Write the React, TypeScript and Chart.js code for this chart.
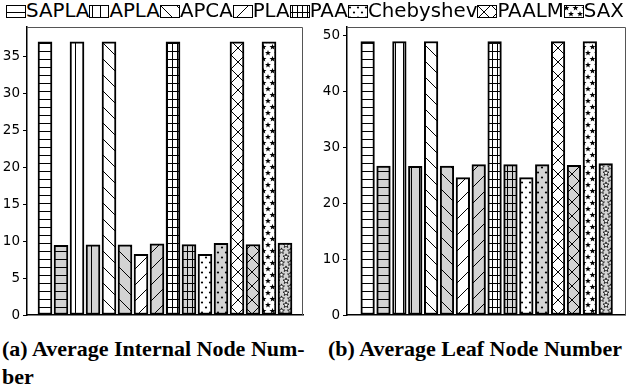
import React, { useEffect, useRef } from 'react';
import { Chart, registerables } from 'chart.js';
Chart.register(...registerables);

// ---- data ----
const methods = ['SAPLA', 'APLA', 'APCA', 'PLA', 'PAA', 'Chebyshev', 'PAALM', 'SAX'];
const internalWhite = [37, 37, 37, 8.2, 37, 8.2, 37, 37];
const internalGray = [9.45, 9.5, 9.5, 9.65, 9.55, 9.7, 9.55, 9.75];
const leafWhite = [49, 49, 49, 24.6, 49, 24.6, 49, 49];
const leafGray = [26.7, 26.65, 26.7, 26.95, 26.95, 26.95, 26.8, 27.15];
const captionA = ['(a) Average Internal Node Num-', 'ber'];
const captionB = ['(b) Average Leaf Node Number'];

type Kind = 'hline' | 'vline' | 'bslash' | 'fslash' | 'grid' | 'dots' | 'xcross' | 'stars';
const kinds: Kind[] = ['hline', 'vline', 'bslash', 'fslash', 'grid', 'dots', 'xcross', 'stars'];

const GRAY = '#d3d3d3';

function star(ctx: CanvasRenderingContext2D, cx: number, cy: number, r: number, fill: string, stroke?: string) {
  ctx.beginPath();
  for (let i = 0; i < 10; i++) {
    const rr = i % 2 === 0 ? r : r * 0.42;
    const a = -Math.PI / 2 + (i * Math.PI) / 5;
    const x = cx + rr * Math.cos(a);
    const y = cy + rr * Math.sin(a);
    if (i === 0) ctx.moveTo(x, y);
    else ctx.lineTo(x, y);
  }
  ctx.closePath();
  ctx.fillStyle = fill;
  ctx.fill();
  if (stroke) {
    ctx.strokeStyle = stroke;
    ctx.lineWidth = 0.8;
    ctx.stroke();
  }
}

function makeTile(kind: Kind, bg: string): HTMLCanvasElement {
  let w = 8, h = 8;
  if (kind === 'bslash' || kind === 'fslash') { w = 16; h = 16; }
  if (kind === 'xcross') { w = 14; h = 14; }
  if (kind === 'grid') { w = 5; h = 8; }
  if (kind === 'dots') { w = 8; h = 10; }
  if (kind === 'stars') { w = 9; h = 12; }
  const c = document.createElement('canvas');
  c.width = w; c.height = h;
  const ctx = c.getContext('2d')!;
  ctx.fillStyle = bg;
  ctx.fillRect(0, 0, w, h);
  ctx.fillStyle = '#000';
  ctx.strokeStyle = '#000';
  ctx.lineWidth = 1;
  const line = (x1: number, y1: number, x2: number, y2: number) => {
    ctx.beginPath(); ctx.moveTo(x1, y1); ctx.lineTo(x2, y2); ctx.stroke();
  };
  switch (kind) {
    case 'hline':
      ctx.fillRect(0, 7, w, 1);
      break;
    case 'vline':
      ctx.fillRect(3, 0, 1, h);
      break;
    case 'grid':
      ctx.fillRect(0, 7, w, 1);
      ctx.fillRect(2, 0, 1, h);
      break;
    case 'bslash':
      for (const o of [-w, 0, w]) line(o, 0, o + w, h);
      break;
    case 'fslash':
      for (const o of [-w, 0, w]) line(o, h, o + w, 0);
      break;
    case 'xcross':
      for (const o of [-w, 0, w]) { line(o, 0, o + w, h); line(o, h, o + w, 0); }
      break;
    case 'dots':
      ctx.beginPath(); ctx.arc(2, 2.5, 1.1, 0, Math.PI * 2); ctx.fill();
      ctx.beginPath(); ctx.arc(6, 7.5, 1.1, 0, Math.PI * 2); ctx.fill();
      break;
    case 'stars': {
      const light = bg === GRAY;
      const pts = [[2.5, 3], [7, 9], [11.5, 3], [-2, 9], [2.5, 15], [7, -3], [11.5, 15], [-2, -3]];
      for (const [x, y] of pts) {
        star(ctx, x, y, 3.1, light ? '#fff' : '#000', light ? '#000' : undefined);
      }
      break;
    }
  }
  return c;
}

function makePatterns(bg: string): (CanvasPattern | string)[] {
  const probe = document.createElement('canvas').getContext('2d')!;
  return kinds.map((k) => probe.createPattern(makeTile(k, bg), 'repeat') || bg);
}

const framePlugin = {
  id: 'frame',
  afterDraw(chart: any) {
    const { ctx, chartArea } = chart;
    ctx.save();
    ctx.strokeStyle = '#555';
    ctx.lineWidth = 1;
    ctx.beginPath();
    ctx.moveTo(chartArea.left, chartArea.top + 0.5);
    ctx.lineTo(chartArea.right - 0.5, chartArea.top + 0.5);
    ctx.lineTo(chartArea.right - 0.5, chartArea.bottom);
    ctx.stroke();
    ctx.restore();
  },
};

function buildConfig(white: number[], gray: number[], yMax: number, step: number, xMin: number, xMax: number, thick: number, padRight: number) {
  const whitePats = makePatterns('#ffffff');
  const grayPats = makePatterns(GRAY);
  return {
    type: 'bar' as const,
    data: {
      datasets: [
        {
          label: 'white',
          data: methods.map((_, i) => ({ x: 2 * i, y: white[i] })),
          backgroundColor: whitePats,
          borderColor: '#000',
          borderWidth: 2,
          borderSkipped: false,
          barThickness: thick,
          grouped: false,
        },
        {
          label: 'gray',
          data: methods.map((_, i) => ({ x: 2 * i + 1, y: gray[i] })),
          backgroundColor: grayPats,
          borderColor: '#000',
          borderWidth: 2,
          borderSkipped: false,
          barThickness: thick,
          grouped: false,
        },
      ],
    },
    options: {
      animation: false,
      responsive: false,
      devicePixelRatio: 1,
      layout: { padding: { left: 0, right: padRight, top: 7, bottom: 15 } },
      plugins: { legend: { display: false }, tooltip: { enabled: false } },
      scales: {
        x: {
          type: 'linear',
          min: xMin,
          max: xMax,
          offset: false,
          grid: { display: false },
          ticks: { display: false },
          border: { display: true, color: '#000', width: 1.5 },
          afterFit: (s: any) => { s.height = 0; s.paddingLeft = 0; s.paddingRight = 0; },
        },
        y: {
          min: 0,
          max: yMax,
          ticks: {
            stepSize: step,
            includeBounds: false,
            color: '#000',
            padding: 3,
            font: { family: 'DejaVu Sans', size: 13.5 },
          },
          grid: { drawOnChartArea: false, tickLength: 4, color: '#000' },
          border: { color: '#000', width: 1.5 },
          afterFit: (s: any) => { s.width = 27; s.paddingTop = 0; s.paddingBottom = 0; },
        },
      },
    },
    plugins: [framePlugin],
  };
}

function BarChart(props: { white: number[]; gray: number[]; yMax: number; step: number; xMin: number; xMax: number; thick: number; padRight: number; left: number }) {
  const ref = useRef<HTMLCanvasElement>(null);
  useEffect(() => {
    const chart = new Chart(ref.current!, buildConfig(props.white, props.gray, props.yMax, props.step, props.xMin, props.xMax, props.thick, props.padRight) as any);
    return () => chart.destroy();
  }, []);
  return (
    <canvas
      ref={ref}
      width={306}
      height={310}
      style={{ position: 'absolute', left: props.left, top: 20, width: 306, height: 310 }}
    />
  );
}

function LegendIcon({ kind }: { kind: Kind }) {
  const ref = useRef<HTMLCanvasElement>(null);
  useEffect(() => {
    const c = ref.current!;
    const ctx = c.getContext('2d')!;
    ctx.clearRect(0, 0, c.width, c.height);
    const pat = ctx.createPattern(makeTile(kind, '#ffffff'), 'repeat');
    ctx.fillStyle = pat || '#fff';
    ctx.fillRect(1, 1, 18, 11);
    ctx.strokeStyle = '#000';
    ctx.lineWidth = 1;
    ctx.strokeRect(0.5, 0.5, 19, 12);
  }, []);
  return <canvas ref={ref} width={20} height={13} style={{ display: 'block', width: 20, height: 13, marginTop: 1 }} />;
}

export default function App() {
  useEffect(() => {
    document.body.style.margin = '0';
  }, []);
  return (
    <div style={{ position: 'relative', width: 626, height: 392, background: '#fff', overflow: 'hidden' }}>
      <div
        style={{
          position: 'absolute', left: 6, top: 0, height: 22, display: 'flex', alignItems: 'center',
          fontFamily: 'DejaVu Sans', fontSize: 19.8, lineHeight: '22px', color: '#000', whiteSpace: 'nowrap',
        }}
      >
        {methods.map((m, i) => (
          <div key={m} style={{ display: 'flex', alignItems: 'center' }}>
            <LegendIcon kind={kinds[i]} />
            <span>{m}</span>
          </div>
        ))}
      </div>
      <BarChart white={internalWhite} gray={internalGray} yMax={39} step={5} xMin={-1.125} xMax={16.125} thick={14} padRight={3} left={0} />
      <BarChart white={leafWhite} gray={leafGray} yMax={51.6} step={10} xMin={-1.3} xMax={16.28} thick={13.6} padRight={0} left={320} />
      <div style={{ position: 'absolute', left: 2, top: 335, fontFamily: 'Liberation Serif', fontWeight: 'bold', fontSize: 22, lineHeight: '28px', color: '#000', whiteSpace: 'pre' }}>
        {captionA.join('\n')}
      </div>
      <div style={{ position: 'absolute', left: 328, top: 335, fontFamily: 'Liberation Serif', fontWeight: 'bold', fontSize: 22, lineHeight: '28px', color: '#000', whiteSpace: 'pre' }}>
        {captionB.join('\n')}
      </div>
    </div>
  );
}
